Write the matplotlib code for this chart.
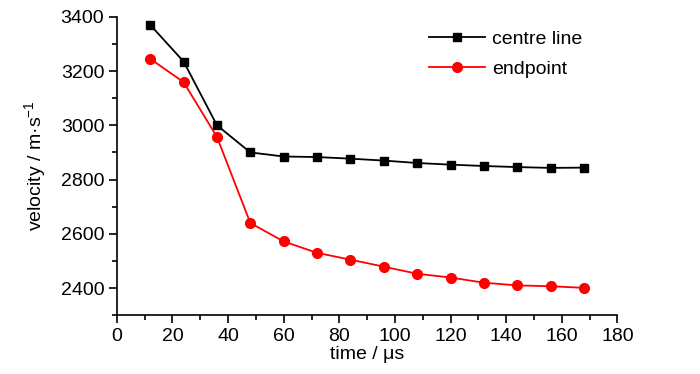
import matplotlib
matplotlib.use("Agg")
import matplotlib.pyplot as plt
from matplotlib.ticker import MultipleLocator

fam = 'Liberation Sans'
plt.rcParams['font.family'] = [fam, 'DejaVu Sans']
plt.rcParams['mathtext.fontset'] = 'custom'
plt.rcParams['mathtext.rm'] = fam
plt.rcParams['mathtext.it'] = fam
plt.rcParams['mathtext.bf'] = fam

time_us = [12, 24, 36, 48, 60, 72, 84, 96, 108, 120, 132, 144, 156, 168]
centre_line = [3370, 3235, 3000, 2900, 2885, 2883, 2877, 2870, 2861, 2855, 2850, 2846, 2843, 2844]
endpoint = [3245, 3159, 2957, 2640, 2572, 2530, 2505, 2479, 2453, 2439, 2420, 2410, 2407, 2401]

fs = 14

fig = plt.figure(figsize=(7.0, 3.74), dpi=100)
ax = fig.add_axes([0.1669, 0.157, 0.8821 - 0.1669, 0.9553 - 0.157])

ax.plot(time_us, centre_line, color='black', lw=1.3, marker='s', ms=6, label='centre line')
ax.plot(time_us, endpoint, color='red', lw=1.3, marker='o', ms=7, label='endpoint')

ax.set_xlim(0, 180)
ax.set_ylim(2300, 3400)
ax.xaxis.set_major_locator(MultipleLocator(20))
ax.xaxis.set_minor_locator(MultipleLocator(10))
ax.yaxis.set_minor_locator(MultipleLocator(100))
ax.set_yticks([2400, 2600, 2800, 3000, 3200, 3400])

for s in ['top', 'right']:
    ax.spines[s].set_visible(False)
for s in ['left', 'bottom']:
    ax.spines[s].set_linewidth(1.2)

ax.tick_params(axis='both', which='major', direction='out', length=6, width=1.2, labelsize=fs, pad=3)
ax.tick_params(axis='both', which='minor', direction='out', length=3.5, width=1.2)

ax.set_xlabel('time / μs', fontsize=fs, labelpad=1)
ax.set_ylabel('velocity / m·s$^{-1}$', fontsize=fs, labelpad=9)

ax.legend(loc='upper left', bbox_to_anchor=(429 / 700, 1 - 30 / 374), bbox_transform=fig.transFigure,
          frameon=False, borderaxespad=0, borderpad=0, handlelength=2.9, handletextpad=0.35,
          labelspacing=0.65, fontsize=fs)

fig.savefig('out.png', dpi=100)
